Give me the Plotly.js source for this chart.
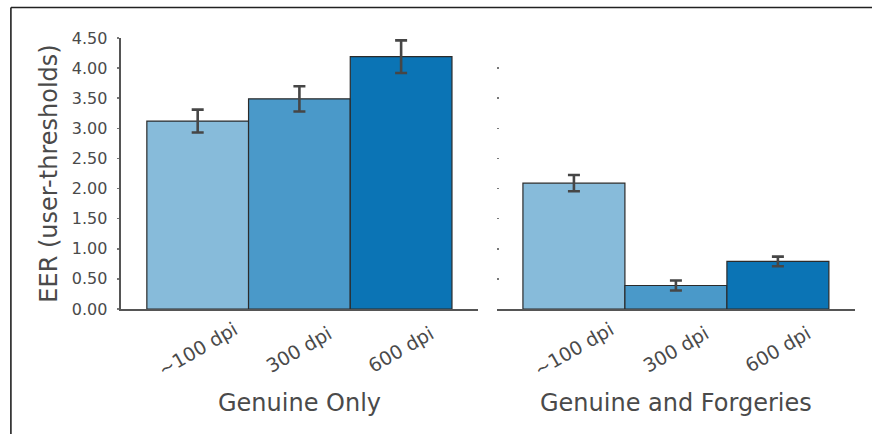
<!DOCTYPE html>
<html>
<head>
<meta charset="utf-8">
<script src="https://cdn.plot.ly/plotly-3.0.1.min.js"></script>
<style>html,body{margin:0;padding:0;background:#fff;}#chart{width:872px;height:434px;}</style>
</head>
<body>
<div id="chart"></div>
<script>
// Data
const categories = ["~100 dpi", "300 dpi", "600 dpi"];
const genuineOnly = [3.12, 3.49, 4.19];
const genuineOnlyErr = [0.19, 0.21, 0.27];
const genuineForg = [2.09, 0.39, 0.79];
const genuineForgErr = [0.135, 0.083, 0.08];
const yTickVals = [0, 0.5, 1, 1.5, 2, 2.5, 3, 3.5, 4, 4.5];
const yTickText = ["0.00","0.50","1.00","1.50","2.00","2.50","3.00","3.50","4.00","4.50"];
const panelTitles = ["Genuine Only", "Genuine and Forgeries"];

const barColors = ["#87bbda", "#4a99c9", "#0b74b5"];
const idx = categories.map((c, i) => i);
const font = "DejaVu Sans, sans-serif";

function barTrace(vals, errs, xa, ya) {
  return {
    type: "bar", x: idx, y: vals, xaxis: xa, yaxis: ya, width: 1,
    marker: {color: barColors, line: {color: "#2b2b2b", width: 1.2}},
    error_y: {type: "data", array: errs, visible: true, color: "#464646", thickness: 2.6, width: 6},
    hoverinfo: "skip", showlegend: false
  };
}

const data = [
  barTrace(genuineOnly, genuineOnlyErr, "x", "y"),
  barTrace(genuineForg, genuineForgErr, "x2", "y2")
];

const annotations = [];
[["x", 0], ["x2", 1]].forEach(([xa, p]) => {
  categories.forEach((c, i) => {
    annotations.push({text: c, x: i, xref: xa, y: -0.148, yref: "paper", textangle: -30,
      showarrow: false, xanchor: "center", yanchor: "middle",
      font: {family: font, size: 19, color: "#4a4a4a"}});
  });
  annotations.push({text: panelTitles[p], x: 1, xref: xa, y: -0.347, yref: "paper",
    showarrow: false, xanchor: "center", yanchor: "middle",
    font: {family: font, size: 24, color: "#4a4a4a"}});
});

const xCommon = {range: [-0.754, 2.756], showticklabels: false, ticks: "", showgrid: false, zeroline: false,
  showline: true, linecolor: "#555555", linewidth: 2.4, fixedrange: true};

const layout = {
  width: 872, height: 434,
  margin: {l: 121, r: 17, t: 38, b: 125},
  paper_bgcolor: "#ffffff", plot_bgcolor: "#ffffff",
  font: {family: font, color: "#4a4a4a"},
  bargap: 0,
  xaxis: Object.assign({}, xCommon, {domain: [0, 0.4864], anchor: "y"}),
  xaxis2: Object.assign({}, xCommon, {domain: [0.5123, 1], anchor: "y2"}),
  yaxis: {domain: [0, 1], range: [0, 4.5], tickvals: yTickVals, ticktext: yTickText,
    showgrid: false, zeroline: false, showline: true, linecolor: "#555555", linewidth: 2.4,
    ticks: "outside", ticklen: 2, tickcolor: "#777", tickwidth: 1.5, ticklabelstandoff: 6,
    tickfont: {family: font, size: 16, color: "#4a4a4a"},
    title: {text: "EER (user-thresholds)", font: {family: font, size: 24, color: "#4a4a4a"}, standoff: 8},
    anchor: "x", fixedrange: true},
  yaxis2: {domain: [0, 1], range: [0, 4.5], tickvals: yTickVals, showticklabels: false,
    showgrid: false, zeroline: false, showline: false,
    ticks: "inside", ticklen: 2, tickcolor: "#777", tickwidth: 1.5,
    anchor: "x2", fixedrange: true},
  annotations: annotations,
  shapes: [
    {type: "line", xref: "paper", yref: "paper", x0: -0.150, x1: 1.03, y0: 1.1125, y1: 1.1125,
      line: {color: "#222", width: 1.6}},
    {type: "line", xref: "paper", yref: "paper", x0: -0.150, x1: -0.150, y0: 1.1125, y1: -0.47,
      line: {color: "#222", width: 1.6}}
  ]
};

Plotly.newPlot("chart", data, layout, {displayModeBar: false, staticPlot: true});
</script>
</body>
</html>
